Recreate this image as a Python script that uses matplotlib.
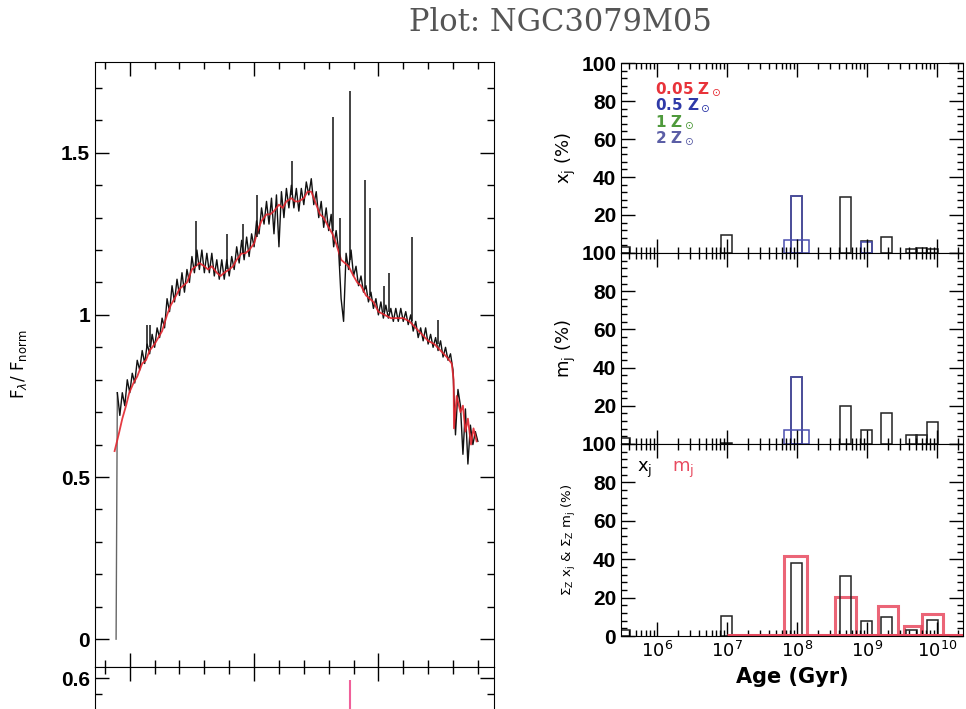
import numpy as np
import matplotlib
matplotlib.use("Agg")
import matplotlib.pyplot as plt
from matplotlib.ticker import MultipleLocator, FixedLocator, LogLocator, NullFormatter

# ---------------- spectrum panel (wavelength in Angstrom) ----------------
obs_wave = [3890] + list(range(3900, 6801, 20))
obs_flux = [
    0.00,
    0.76, 0.69, 0.76, 0.72, 0.80, 0.76, 0.82, 0.79, 0.86, 0.83,
    0.89, 0.85, 0.91, 0.88, 0.94, 0.90, 0.96, 0.93, 0.99, 0.96,
    1.05, 1.01, 1.09, 1.04, 1.11, 1.06, 1.13, 1.07, 1.14, 1.10,
    1.18, 1.13, 1.20, 1.14, 1.20, 1.13, 1.19, 1.13, 1.19, 1.12,
    1.17, 1.11, 1.17, 1.11, 1.17, 1.12, 1.18, 1.14, 1.21, 1.16,
    1.23, 1.17, 1.24, 1.18, 1.25, 1.21, 1.29, 1.25, 1.33, 1.28,
    1.35, 1.28, 1.36, 1.25, 1.37, 1.21, 1.38, 1.30, 1.39, 1.33,
    1.40, 1.33, 1.39, 1.32, 1.39, 1.34, 1.41, 1.37, 1.42, 1.34,
    1.38, 1.30, 1.35, 1.27, 1.33, 1.26, 1.31, 1.21, 1.26, 1.20,
    1.05, 0.98, 1.19, 1.14, 1.20, 1.12, 1.15, 1.09, 1.12, 1.07,
    1.09, 1.04, 1.07, 1.02, 1.05, 1.00, 1.04, 0.99, 1.03, 0.99,
    1.02, 0.98, 1.02, 0.98, 1.02, 0.98, 1.01, 0.97, 1.00, 0.95,
    0.98, 0.93, 0.96, 0.92, 0.96, 0.91, 0.94, 0.90, 0.93, 0.89,
    0.92, 0.87, 0.90, 0.86, 0.88, 0.83, 0.63, 0.77, 0.72, 0.57,
    0.71, 0.54, 0.66, 0.60, 0.64, 0.61,
]

model_wave = [
    3878, 3910, 3940, 3970, 3996, 4030, 4060, 4100, 4130, 4160,
    4200, 4230, 4260, 4300, 4330, 4360, 4400, 4430, 4460, 4500,
    4530, 4560, 4600, 4630, 4660, 4700, 4730, 4760, 4800, 4830,
    4860, 4900, 4930, 4960, 5000, 5030, 5060, 5100, 5130, 5160,
    5200, 5230, 5260, 5300, 5330, 5360, 5400, 5430, 5460, 5500,
    5530, 5560, 5600, 5630, 5660, 5700, 5730, 5760, 5800, 5830,
    5860, 5900, 5930, 5960, 6000, 6050, 6100, 6150, 6200, 6250,
    6300, 6350, 6400, 6450, 6500, 6550, 6590, 6605, 6608, 6630,
    6660, 6680, 6700, 6720, 6745, 6765, 6790,
]
model_flux = [
    0.58, 0.63, 0.68, 0.72, 0.76, 0.79, 0.81, 0.85, 0.86, 0.89,
    0.91, 0.93, 0.95, 1.00, 1.03, 1.05, 1.08, 1.09, 1.10, 1.14,
    1.15, 1.16, 1.15, 1.14, 1.15, 1.13, 1.12, 1.13, 1.14, 1.15,
    1.17, 1.19, 1.19, 1.20, 1.22, 1.26, 1.29, 1.31, 1.31, 1.32,
    1.34, 1.33, 1.35, 1.36, 1.35, 1.35, 1.36, 1.38, 1.38, 1.34,
    1.31, 1.30, 1.27, 1.25, 1.22, 1.17, 1.16, 1.15, 1.12, 1.10,
    1.09, 1.06, 1.05, 1.04, 1.01, 1.00, 0.99, 0.99, 0.99, 0.98,
    0.96, 0.94, 0.92, 0.91, 0.89, 0.87, 0.85, 0.80, 0.65, 0.75,
    0.70, 0.72, 0.64, 0.68, 0.60, 0.65, 0.61,
]

# emission lines sticking out of the observed spectrum
line_wave = [4135, 4160, 4529, 4780, 4909, 5023, 5306, 5637, 5690, 5774,
             5895, 5936, 6049, 6089, 6267, 6478]
line_base = [0.90, 0.90, 1.15, 1.14, 1.19, 1.24, 1.37, 1.26, 1.15, 1.17,
             1.08, 1.06, 1.01, 1.01, 0.98, 0.91]
line_peak = [0.97, 0.97, 1.29, 1.25, 1.28, 1.37, 1.475, 1.61, 1.30, 1.69,
             1.415, 1.33, 1.09, 1.13, 1.24, 0.985]

# masked / residual line in the lower panel
resid_wave = [5774]
resid_top = [0.594]

# ---------------- population vectors (log age, %) ----------------
# x_j : black = total, blue = components
xj_logage = [5.53, 6.99, 7.99, 8.69, 8.99, 9.28, 9.64, 9.78, 9.94]
xj_value = [3, 9.5, 30, 29.5, 6.3, 8.5, 2, 2.5, 2]
xj_blue_logage = [7.99, 7.99, 8.99]
xj_blue_value = [30, 7, 6]
xj_blue_width = [0.16, 0.36, 0.16]

# m_j
mj_logage = [5.53, 6.99, 7.99, 8.69, 8.99, 9.28, 9.64, 9.78, 9.94]
mj_value = [3, 0.5, 35, 20, 7.3, 16, 4.7, 4.7, 11.5]
mj_blue_logage = [7.99, 7.99]
mj_blue_value = [35, 7.3]
mj_blue_width = [0.16, 0.36]

# sums over Z
sx_logage = [5.53, 6.99, 7.99, 8.69, 8.99, 9.28, 9.64, 9.94]
sx_value = [3, 10.5, 38, 31, 8, 10, 3, 8.5]
sm_logage = [7.98, 8.69, 9.30, 9.65, 9.94]
sm_value = [41.5, 20.5, 15.5, 5, 11.5]
sm_width = [0.33, 0.30, 0.29, 0.24, 0.30]
sm_baseline = (7.0, 10.4)   # log ages of the red zero line

bar_width = 0.16  # dex

metal_labels = [r'0.05 Z$_\odot$', r'0.5 Z$_\odot$', r'1 Z$_\odot$', r'2 Z$_\odot$']
metal_colors = ['#e8333a', '#2f3aa8', '#4f9a3c', '#5b5ea6']

TICKFONT = dict(family='Liberation Sans', weight='bold', size=15)


def log_bars(ax, logage, values, widths, **kw):
    logage = np.asarray(logage, float)
    widths = np.broadcast_to(np.asarray(widths, float), logage.shape)
    left = 10 ** (logage - widths / 2)
    right = 10 ** (logage + widths / 2)
    ax.bar(left, values, width=right - left, align='edge', fill=False, **kw)


fig = plt.figure(figsize=(9.66, 7.09), dpi=100)
fig.text(0.58, 0.968, 'Plot: NGC3079M05', ha='center', va='center',
         fontsize=22, family='DejaVu Serif', color='#555555')

# ---- spectrum ----
ax = fig.add_axes([0.0983, 0.0592, 0.4131, 0.8534])
ax.plot(obs_wave[:2], obs_flux[:2], color='#666666', lw=1.0)
ax.plot(obs_wave[1:], obs_flux[1:], color='#111111', lw=1.0)
ax.plot(model_wave, model_flux, color='#e3262e', lw=1.3, alpha=0.9)
ax.vlines(line_wave, line_base, line_peak, color='#111111', lw=1.1)
ax.set_xlim(3720, 6930)
ax.set_ylim(-0.086, 1.78)
ax.yaxis.set_major_locator(FixedLocator([0, 0.5, 1, 1.5]))
ax.set_yticklabels(['0', '0.5', '1', '1.5'], fontdict=TICKFONT)
ax.yaxis.set_minor_locator(MultipleLocator(0.1))
ax.xaxis.set_major_locator(MultipleLocator(1000))
ax.xaxis.set_minor_locator(MultipleLocator(200))
ax.tick_params(which='both', direction='in', top=True, right=True, labelbottom=False)
ax.tick_params(which='major', length=10, width=1)
ax.tick_params(which='minor', length=5, width=1)
ax.set_ylabel(r'F$_\lambda$/ F$_{\rm norm}$', fontsize=12)
ax.yaxis.set_label_coords(-0.165, 0.5)

# ---- residual panel (mostly below the cut) ----
axr = fig.add_axes([0.0983, 0.0592 - 0.1693, 0.4131, 0.1693])
axr.vlines(resid_wave, -1, resid_top, color='#f0609a', lw=1.5)
axr.set_xlim(3720, 6930)
axr.set_ylim(0.264, 0.634)
axr.yaxis.set_major_locator(FixedLocator([0.6]))
axr.set_yticklabels(['0.6'], fontdict=TICKFONT)
axr.yaxis.set_minor_locator(MultipleLocator(0.05))
axr.xaxis.set_major_locator(MultipleLocator(1000))
axr.xaxis.set_minor_locator(MultipleLocator(200))
axr.tick_params(which='both', direction='in', top=True, right=True, labelbottom=False)
axr.tick_params(which='major', length=10, width=1)
axr.tick_params(which='minor', length=5, width=1)

# ---- population panels ----
left, width = 0.6429, 0.354
edges = [0.91114, 0.64316, 0.37377, 0.10296]
axes = []
for i in range(3):
    a = fig.add_axes([left, edges[i + 1], width, edges[i] - edges[i + 1]])
    a.set_xscale('log')
    a.set_xlim(10 ** 5.486, 10 ** 10.37)
    a.set_ylim(0, 100)
    a.xaxis.set_major_locator(LogLocator(base=10, numticks=20))
    a.xaxis.set_minor_locator(LogLocator(base=10, subs=np.arange(2, 10), numticks=20))
    a.xaxis.set_minor_formatter(NullFormatter())
    a.yaxis.set_major_locator(MultipleLocator(20))
    a.yaxis.set_minor_locator(MultipleLocator(4))
    a.tick_params(which='both', direction='in', top=True, right=True)
    a.tick_params(which='major', length=10, width=1)
    a.tick_params(which='minor', length=4.5, width=1)
    yt = [0, 20, 40, 60, 80, 100]
    a.set_yticks(yt)
    a.set_yticklabels([str(t) if (t > 0 or i == 2) else '' for t in yt], fontdict=TICKFONT)
    if i < 2:
        a.tick_params(labelbottom=False)
    axes.append(a)

ax1, ax2, ax3 = axes

log_bars(ax1, xj_logage, xj_value, bar_width, edgecolor='#222222', lw=1.1)
log_bars(ax1, xj_blue_logage, xj_blue_value, xj_blue_width, edgecolor='#4b4fb0', lw=1.1)
for k, (lab, col) in enumerate(zip(metal_labels, metal_colors)):
    ax1.text(0.099, 0.863 - 0.086 * k, lab, color=col, transform=ax1.transAxes,
             fontsize=11, fontweight='bold', va='center', ha='left')
ax1.set_ylabel(r'x$_{\rm j}$ (%)', fontsize=13)

log_bars(ax2, mj_logage, mj_value, bar_width, edgecolor='#222222', lw=1.1)
log_bars(ax2, mj_blue_logage, mj_blue_value, mj_blue_width, edgecolor='#4b4fb0', lw=1.1)
ax2.set_ylabel(r'm$_{\rm j}$ (%)', fontsize=13)

ax3.hlines(0.6, 10 ** sm_baseline[0], 10 ** sm_baseline[1], color='#e84a5f', lw=2.2)
log_bars(ax3, sm_logage, sm_value, sm_width, edgecolor='#e84a5f', lw=2.2, alpha=0.85)
log_bars(ax3, sx_logage, sx_value, bar_width, edgecolor='#222222', lw=1.1)
ax3.text(0.047, 0.865, r'x$_{\rm j}$', transform=ax3.transAxes, fontsize=13, va='center')
ax3.text(0.15, 0.865, r'm$_{\rm j}$', transform=ax3.transAxes, fontsize=13,
         va='center', color='#e84a5f')
ax3.set_ylabel(r'$\Sigma_{\rm Z}$ x$_{\rm j}$ & $\Sigma_{\rm Z}$ m$_{\rm j}$ (%)', fontsize=9.5)
ax3.set_xlabel('Age (Gyr)', fontsize=15, fontweight='bold')
for lab in ax3.get_xticklabels():
    lab.set_fontsize(13)

for a in axes:
    a.yaxis.set_label_coords(-0.125, 0.5)

fig.savefig('out.png', dpi=100)
